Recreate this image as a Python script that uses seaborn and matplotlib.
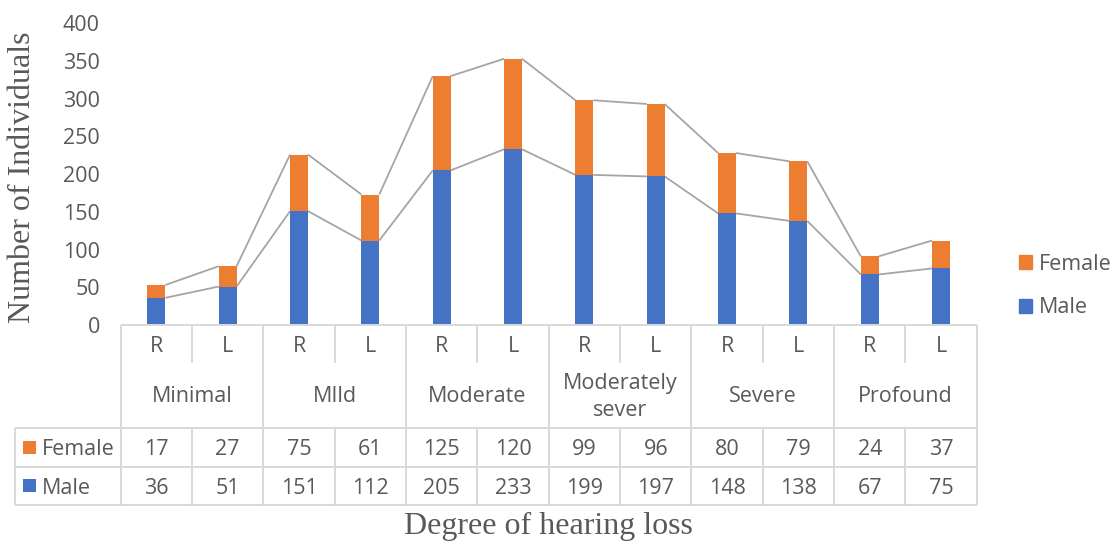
import matplotlib
matplotlib.use("Agg")
import matplotlib.pyplot as plt
import pandas as pd
import seaborn as sns
from matplotlib.patches import Rectangle, Patch

# Hearing loss counts by degree and ear side
groups = ["Minimal", "MIld", "Moderate", "Moderately\nsever", "Severe", "Profound"]
sides = ["R", "L"]
female = [17, 27, 75, 61, 125, 120, 99, 96, 80, 79, 24, 37]
male = [36, 51, 151, 112, 205, 233, 199, 197, 148, 138, 67, 75]
yticks = [0, 50, 100, 150, 200, 250, 300, 350, 400]

BLUE = "#4472C4"
ORANGE = "#ED7D31"
SERIES_LINE = "#A5A5A5"
GRID = "#D9D9D9"
TXT = "#595959"
FS = 15.5

sns.set_theme(style="white")
plt.rcParams["font.family"] = ["Open Sans", "DejaVu Sans"]

labels = [f"{g} {s}" for g in groups for s in sides]
df = pd.DataFrame({"bar": labels, "Female": female, "Male": male})
df["Total"] = df["Female"] + df["Male"]

W, H = 1112, 546
fig = plt.figure(figsize=(W / 100, H / 100), dpi=100)
x0, x1 = 120.7, 976.7
y_top, y_zero = 23.3, 325
ax = fig.add_axes([x0 / W, (H - y_zero) / H, (x1 - x0) / W, (y_zero - y_top) / H])

bw = 0.25
# stacked bars: full total in orange, male portion overlaid in blue
sns.barplot(data=df, x="bar", y="Total", order=labels, color=ORANGE, saturation=1,
            width=bw, linewidth=0, errorbar=None, ax=ax, zorder=2)
sns.barplot(data=df, x="bar", y="Male", order=labels, color=BLUE, saturation=1,
            width=bw, linewidth=0, errorbar=None, ax=ax, zorder=3)

# series lines joining the tops of neighbouring segments
for tops in (df["Male"].values, df["Total"].values):
    for i in range(len(tops) - 1):
        ax.plot([i + bw / 2, i + 1 - bw / 2], [tops[i], tops[i + 1]],
                color=SERIES_LINE, lw=1.3, zorder=1, solid_capstyle="butt")

ax.set_xlim(-0.5, 11.5)
ax.set_ylim(0, 400)
ax.set_yticks(yticks)
ax.set_yticklabels([str(v) for v in yticks], fontsize=FS, color=TXT)
ax.set_xticks([])
ax.tick_params(axis="y", length=0, pad=15)
for t in ax.get_yticklabels():
    t.set_va("center_baseline")
ax.set_xlabel("")
ax.set_ylabel("")
for s in ax.spines.values():
    s.set_visible(False)

# data table under the plot
tx0, ty1 = 15, 505
tab = fig.add_axes([tx0 / W, (H - ty1) / H, (x1 - tx0) / W, (ty1 - y_zero) / H])
colw = (x1 - x0) / 12
left = -0.5 - (x0 - tx0) / colw
r0, r1, r2, r3, r4 = 0, 37.7, 103.3, 141.7, 180
tab.set_xlim(left, 11.5)
tab.set_ylim(r4, r0)
tab.axis("off")

lk = dict(color=GRID, lw=1.4, clip_on=False)
tab.hlines(r0, -0.5, 11.5, **lk)
tab.hlines([r2, r3, r4], left, 11.5, **lk)
tab.vlines(left, r2, r4, **lk)
tab.vlines(-0.5, r0, r4, **lk)
for k in range(len(groups)):
    tab.vlines(2 * k + 1.5, r0, r4, **lk)
    tab.vlines(2 * k + 0.5, r0, r1, **lk)
    tab.vlines(2 * k + 0.5, r2, r4, **lk)

tk = dict(ha="center", va="center_baseline", fontsize=FS, color=TXT)
for i, lab in enumerate(labels):
    tab.text(i, 19, sides[i % 2], **tk)
    tab.text(i, 122, str(female[i]), **tk)
    tab.text(i, 160.5, str(male[i]), **tk)
for k, g in enumerate(groups):
    tab.text(2 * k + 0.5, 72, g, ha="center", va="center", fontsize=FS,
             color=TXT, linespacing=1.38)


def px2d(p):
    return left + (p - tx0) / colw


for name, col, yc in (("Female", ORANGE, 122), ("Male", BLUE, 160.5)):
    tab.add_patch(Rectangle((px2d(23), yc - 6.5), px2d(36) - px2d(23), 13,
                            color=col, lw=0, clip_on=False))
    tab.text(px2d(42), yc, name, ha="left", va="center_baseline", fontsize=FS, color=TXT)

# legend on the right
fig.legend(handles=[Patch(color=ORANGE, label="Female"), Patch(color=BLUE, label="Male")],
           loc="center left", bbox_to_anchor=(1019 / W, (H - 286) / H), frameon=False,
           fontsize=FS, handlelength=0.62, handleheight=0.62, handletextpad=0.3,
           labelspacing=1.05, borderpad=0, borderaxespad=0, labelcolor=TXT)

fig.text(23 / W, (H - 177) / H, "Number of Individuals", rotation=90, ha="center",
         va="center", fontsize=23, color=TXT, family="Liberation Serif")
fig.text(548.7 / W, (H - 526) / H, "Degree of hearing loss", ha="center", va="center",
         fontsize=23, color=TXT, family="Liberation Serif")

fig.savefig("out.png", dpi=100, facecolor="white")
